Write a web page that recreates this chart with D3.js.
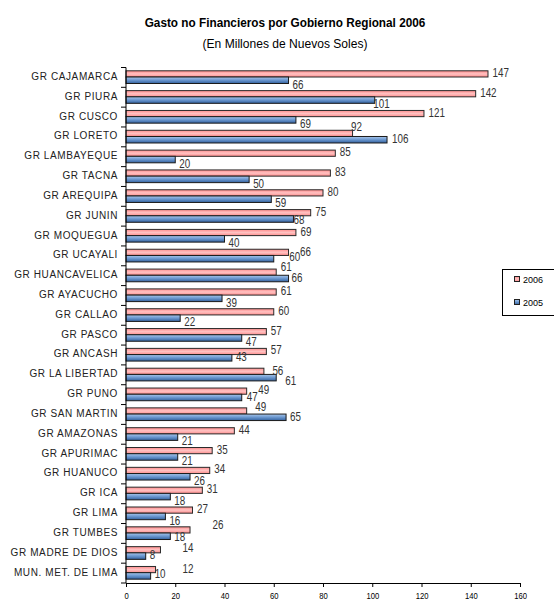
<!DOCTYPE html>
<html><head><meta charset="utf-8">
<script src="https://cdn.jsdelivr.net/npm/d3@7"></script>
<style>
html,body{margin:0;padding:0;background:#fff;}
svg{display:block;}
text{font-family:"Liberation Sans",Arial,sans-serif;}
</style></head>
<body>
<svg id="chart" width="554" height="601"></svg>
<script>
const categories = ["GR CAJAMARCA","GR PIURA","GR CUSCO","GR LORETO","GR LAMBAYEQUE","GR TACNA","GR AREQUIPA","GR JUNIN","GR MOQUEGUA","GR UCAYALI","GR HUANCAVELICA","GR AYACUCHO","GR CALLAO","GR PASCO","GR ANCASH","GR LA LIBERTAD","GR PUNO","GR SAN MARTIN","GR AMAZONAS","GR APURIMAC","GR HUANUCO","GR ICA","GR LIMA","GR TUMBES","GR MADRE DE DIOS","MUN. MET. DE LIMA"];
const values2006 = [147,142,121,92,85,83,80,75,69,66,61,61,60,57,57,56,49,49,44,35,34,31,27,26,14,12];
const values2005 = [66,101,69,106,20,50,59,68,40,60,66,39,22,47,43,61,47,65,21,21,26,18,16,18,8,10];
const xTicks = [0,20,40,60,80,100,120,140,160];
const seriesNames = ["2006","2005"];

// label displacement (as in the original, some labels were dragged)
const nudge2006 = {"GR LORETO":[-6,-5],"GR UCAYALI":[7,1],"GR HUANCAVELICA":[0,-4.5],"GR LA LIBERTAD":[4,1],"GR PUNO":[7,0],"GR SAN MARTIN":[4,-2.5],"GR TUMBES":[18,-3.5],"GR MADRE DE DIOS":[17.5,-1],"MUN. MET. DE LIMA":[22.5,0]};
const nudge2005 = {"GR PIURA":[-5.5,0],"GR LORETO":[1,-5],"GR JUNIN":[-4,-3.5],"GR UCAYALI":[11.5,-6],"GR HUANCAVELICA":[-1,-5],"GR ANCASH":[0,-5],"GR LA LIBERTAD":[5,-1],"GR PUNO":[1,-5],"GR SAN MARTIN":[0,-5],"GR TUMBES":[0,-4],"GR MADRE DE DIOS":[0,-5],"MUN. MET. DE LIMA":[0,-6.5]};

const svg = d3.select("#chart");
const defs = svg.append("defs");
const gp = defs.append("linearGradient").attr("id","gPink").attr("x1",0).attr("y1",0).attr("x2",0).attr("y2",1);
gp.append("stop").attr("offset","0%").attr("stop-color","#ff8c8c");
gp.append("stop").attr("offset","50%").attr("stop-color","#ffc2c2");
gp.append("stop").attr("offset","100%").attr("stop-color","#ff8c8c");
const gb = defs.append("linearGradient").attr("id","gBlue").attr("x1",0).attr("y1",0).attr("x2",0).attr("y2",1);
gb.append("stop").attr("offset","0%").attr("stop-color","#a9c6ea");
gb.append("stop").attr("offset","45%").attr("stop-color","#6f9bd2");
gb.append("stop").attr("offset","100%").attr("stop-color","#33619e");

const x = d3.scaleLinear().domain([0,160]).range([126,520]);
const y = d3.scaleBand().domain(categories).range([67.5,583]).padding(0);
const bw = y.bandwidth();

// squeeze text horizontally (narrow font look)
function squeeze(sel, sx, fx, fy){
  sel.attr("transform",(d,i)=>`translate(${fx(d,i)},${fy(d,i)}) scale(${sx},1)`).attr("x",0).attr("y",0);
}
function fitWidth(t, w){
  const n = t.node(); const len = n.getComputedTextLength();
  const cx = +t.attr("data-x"), cy = +t.attr("data-y");
  t.attr("transform",`translate(${cx},${cy}) scale(${w/len},1)`);
}

// title
const t1 = svg.append("text").attr("data-x",285).attr("data-y",27).attr("text-anchor","middle")
  .attr("font-size",13.5).attr("font-weight","bold").attr("fill","#000")
  .text("Gasto no Financieros por Gobierno Regional 2006");
fitWidth(t1, 281);
const t2 = svg.append("text").attr("data-x",285).attr("data-y",47.5).attr("text-anchor","middle")
  .attr("font-size",13.5).attr("fill","#000")
  .text("(En Millones de Nuevos Soles)");
fitWidth(t2, 165);

// bars
const rows = categories.map((c,i)=>({c, v6: values2006[i], v5: values2005[i]}));
const g = svg.append("g");
g.selectAll("rect.p").data(rows).join("rect").attr("class","p")
  .attr("x",x(0)).attr("y",d=>y(d.c)+3.3).attr("width",d=>x(d.v6)-x(0)).attr("height",6.2)
  .attr("fill","url(#gPink)").attr("stroke","#2a2a2a").attr("stroke-width",1);
g.selectAll("rect.b").data(rows).join("rect").attr("class","b")
  .attr("x",x(0)).attr("y",d=>y(d.c)+9.5).attr("width",d=>x(d.v5)-x(0)).attr("height",6.5)
  .attr("fill","url(#gBlue)").attr("stroke","#1a1a1a").attr("stroke-width",1);

// value labels
g.selectAll("text.l6").data(rows).join("text").attr("class","l6")
  .attr("dy","0.35em").attr("font-size",12).attr("fill","#333").text(d=>d.v6)
  .call(squeeze, 0.82,
    d=>x(d.v6)+4.5+((nudge2006[d.c]||[0,0])[0]),
    d=>y(d.c)+5.2+((nudge2006[d.c]||[0,0])[1]));
g.selectAll("text.l5").data(rows).join("text").attr("class","l5")
  .attr("dy","0.35em").attr("font-size",12).attr("fill","#333").text(d=>d.v5)
  .call(squeeze, 0.82,
    d=>x(d.v5)+4+((nudge2005[d.c]||[0,0])[0]),
    d=>y(d.c)+bw-3+((nudge2005[d.c]||[0,0])[1]));

// y axis
const ya = svg.append("g");
ya.append("line").attr("x1",x(0)).attr("x2",x(0)).attr("y1",67.5).attr("y2",583).attr("stroke","#000");
const bounds = categories.map(c=>y(c)).concat([583]);
ya.selectAll("line.t").data(bounds).join("line").attr("class","t")
  .attr("x1",x(0)-5).attr("x2",x(0)).attr("y1",d=>d).attr("y2",d=>d).attr("stroke","#000");
ya.selectAll("text").data(categories).join("text")
  .attr("x",118).attr("y",d=>y(d)+bw/2-1).attr("dy","0.35em").attr("text-anchor","end")
  .attr("font-size",10).attr("fill","#222")
  .attr("letter-spacing",0.6).text(d=>d);

// x axis
const xa = svg.append("g").attr("transform","translate(0,583)")
  .call(d3.axisBottom(x).tickValues(xTicks).tickSize(4).tickSizeOuter(0).tickFormat(d3.format("d")));
xa.select(".domain").attr("stroke","#000");
xa.selectAll(".tick line").attr("stroke","#000");
xa.selectAll(".tick text").attr("font-size",9).attr("font-family","Liberation Sans, Arial, sans-serif")
  .attr("fill","#000").attr("y",0).attr("dy",0)
  .attr("transform","translate(0,16) scale(0.85,1)");

// legend
const lg = svg.append("g");
lg.append("rect").attr("x",502.5).attr("y",269.5).attr("width",60).attr("height",46).attr("fill","#fff").attr("stroke","#000");
const lgFill = ["url(#gPink)","url(#gBlue)"];
seriesNames.forEach((s,i)=>{
  lg.append("rect").attr("x",514.5).attr("y",276.5+i*23).attr("width",5).attr("height",5).attr("fill",lgFill[i]).attr("stroke","#222");
  lg.append("text").attr("x",523).attr("y",279.5+i*23).attr("dy","0.35em").attr("font-size",9).attr("fill","#000").text(s);
});
</script>
</body></html>
